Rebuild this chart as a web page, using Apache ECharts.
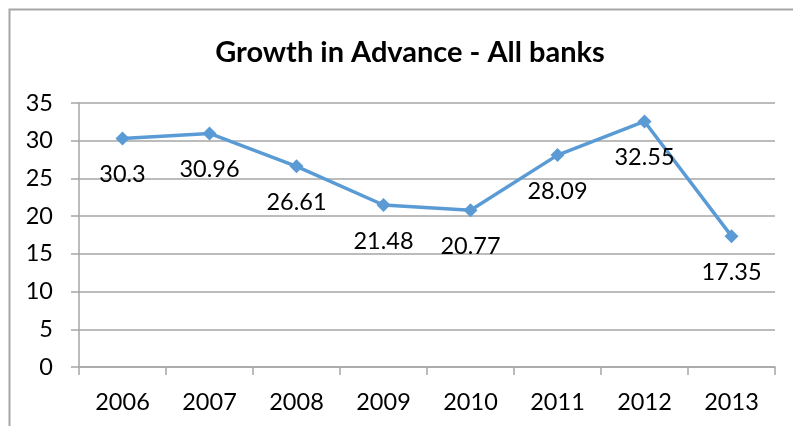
<!DOCTYPE html>
<html>
<head>
<meta charset="utf-8">
<script src="https://cdn.jsdelivr.net/npm/echarts@6/dist/echarts.min.js"></script>
<style>
  html, body { margin: 0; padding: 0; background: #fff; }
  #chart { width: 793px; height: 426px; }
</style>
</head>
<body>
<div id="chart"></div>
<script>
// Year-on-year growth in advances across all banks (%)
const years = ['2006', '2007', '2008', '2009', '2010', '2011', '2012', '2013'];
const growth = [30.3, 30.96, 26.61, 21.48, 20.77, 28.09, 32.55, 17.35];
const yTicks = [0, 5, 10, 15, 20, 25, 30, 35];

const FONT = 'Lato, "Open Sans", sans-serif';
const chart = echarts.init(document.getElementById('chart'));

chart.setOption({
  backgroundColor: '#fff',
  animation: false,
  title: {
    text: 'Growth in Advance - All banks',
    left: 405,
    textAlign: 'center',
    top: 33,
    textStyle: { fontFamily: FONT, fontWeight: 'bold', fontSize: 29, color: '#000' }
  },
  graphic: [{
    type: 'polyline',
    shape: { points: [[9.5, 440], [9.5, 9.5], [800, 9.5]] },
    style: { stroke: '#a6a6a6', lineWidth: 2, fill: null },
    silent: true
  }],
  grid: { left: 79, right: 18, top: 103, bottom: 59 },
  xAxis: {
    type: 'category',
    data: years,
    boundaryGap: true,
    axisLine: { lineStyle: { color: '#a6a6a6', width: 1.5 } },
    axisTick: { show: true, length: 8, lineStyle: { color: '#a6a6a6', width: 1.5 } },
    axisLabel: { fontFamily: FONT, fontSize: 23.5, color: '#000', margin: 23 }
  },
  yAxis: {
    type: 'value',
    min: yTicks[0],
    max: yTicks[yTicks.length - 1],
    interval: 5,
    axisLine: { show: true, lineStyle: { color: '#a6a6a6', width: 1.5 } },
    axisTick: { show: true, length: 8, lineStyle: { color: '#a6a6a6', width: 1.5 } },
    splitLine: { lineStyle: { color: '#a6a6a6', width: 1.5 } },
    axisLabel: { fontFamily: FONT, fontSize: 23.5, color: '#000', margin: 26 }
  },
  series: [{
    type: 'line',
    data: growth,
    symbol: 'diamond',
    symbolSize: 14,
    lineStyle: { color: '#5b9bd5', width: 3.5 },
    itemStyle: { color: '#5b9bd5' },
    label: {
      show: true,
      position: 'bottom',
      distance: 17,
      fontFamily: FONT,
      fontSize: 23.5,
      color: '#000'
    }
  }]
});
</script>
</body>
</html>
